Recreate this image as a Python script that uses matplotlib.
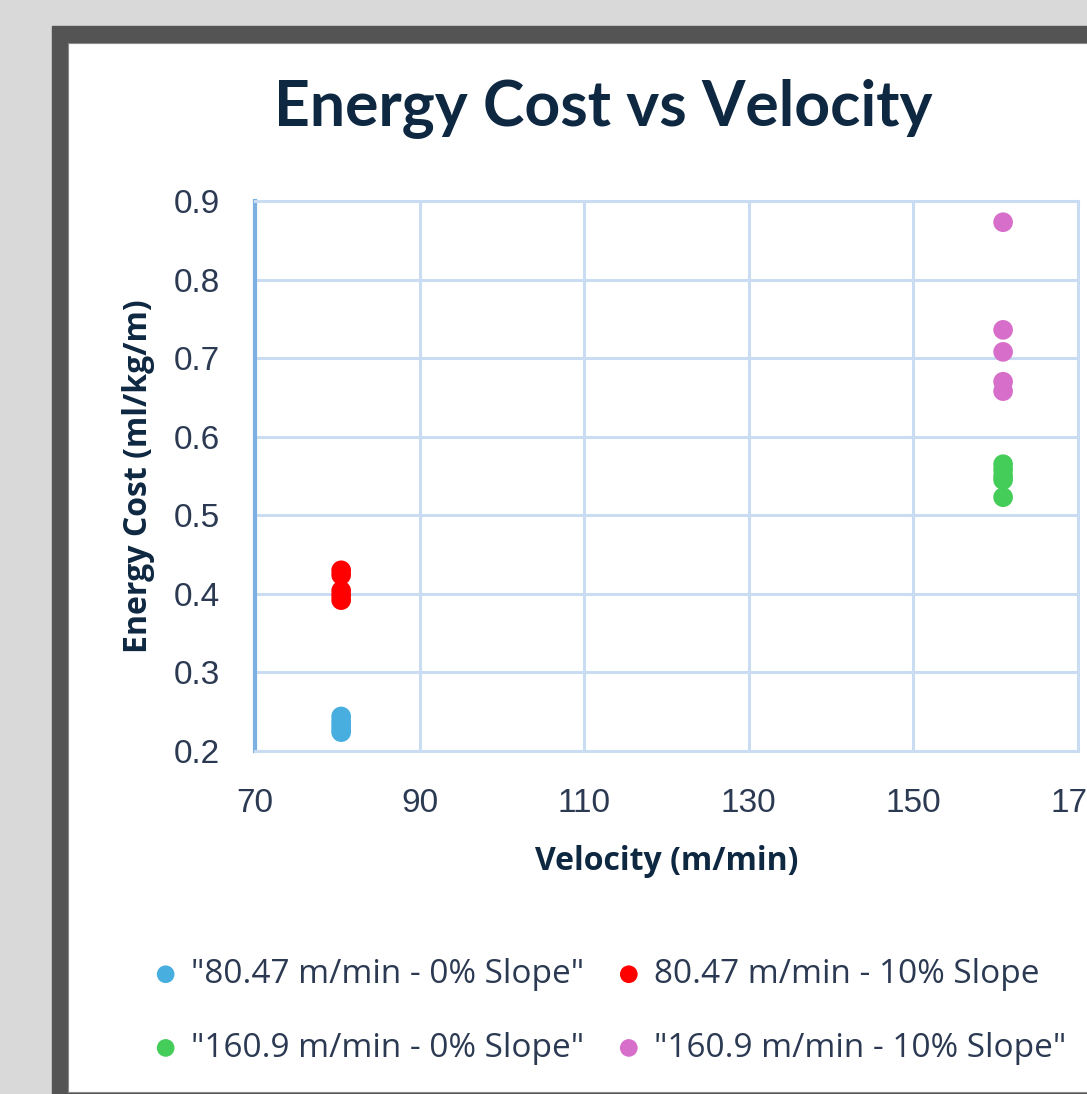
import numpy as np
import matplotlib
matplotlib.use("Agg")
import matplotlib.pyplot as plt
from matplotlib.patches import Rectangle

# data
x_slow = 80.47
x_fast = 160.9
blue_y = [0.244, 0.238, 0.233, 0.228, 0.224]    # "80.47 m/min - 0% Slope"
red_y = [0.430, 0.424, 0.404, 0.398, 0.392]     # 80.47 m/min - 10% Slope
green_y = [0.565, 0.558, 0.550, 0.545, 0.523]   # "160.9 m/min - 0% Slope"
pink_y = [0.873, 0.736, 0.708, 0.670, 0.658]    # "160.9 m/min - 10% Slope"

labels = ['"80.47 m/min - 0% Slope"', '80.47 m/min - 10% Slope',
          '"160.9 m/min - 0% Slope"', '"160.9 m/min - 10% Slope"']
colors = ['#48AEE0', '#FF0000', '#45CD59', '#D76FCA']

xticks = [70, 90, 110, 130, 150, 170]
yticks = [0.2, 0.3, 0.4, 0.5, 0.6, 0.7, 0.8, 0.9]

W, H = 1087, 1094
fig = plt.figure(figsize=(W / 100, H / 100), dpi=100, facecolor='#D9D9D9')

def fx(px):
    return px / W

def fy(py):
    return 1 - py / H

# screenshot frame: dark border + white chart area
fig.patches.append(Rectangle((fx(52), fy(1094)), 1.0, fy(26) - fy(1094),
                             transform=fig.transFigure, color='#545454', zorder=-10))
fig.patches.append(Rectangle((fx(68), fy(1092)), 1.0, fy(43) - fy(1092),
                             transform=fig.transFigure, facecolor='white',
                             edgecolor='#8A8A8A', lw=0.8, zorder=-9))

ax = fig.add_axes([fx(255), fy(751), fx(1078) - fx(255), fy(201) - fy(751)])
ax.set_zorder(2)
ax.set_facecolor('white')

series = [(x_slow, blue_y), (x_slow, red_y), (x_fast, green_y), (x_fast, pink_y)]
handles = []
for (xv, ys), c, lab in zip(series, colors, labels):
    h = ax.scatter(np.full(len(ys), xv), ys, s=200, color=c, edgecolors='none',
                   label=lab, zorder=3)
    handles.append(h)

ax.set_xlim(70, 170)
ax.set_ylim(0.2, 0.9)
ax.set_xticks(xticks)
ax.set_yticks(yticks)
ax.set_yticklabels([f'{v:.1f}' for v in yticks])
ax.grid(True, color='#C9DCF1', lw=2.2, zorder=0)
ax.set_axisbelow(True)
ax.tick_params(length=0, labelsize=24, labelcolor='#2B3A52')
for lab in ax.get_xticklabels() + ax.get_yticklabels():
    lab.set_family('Liberation Sans')
ax.tick_params(axis='x', pad=27)
ax.tick_params(axis='y', pad=25)

ax.spines['left'].set_color('#7DB0E0')
ax.spines['left'].set_linewidth(3.0)
for side in ['bottom', 'top', 'right']:
    ax.spines[side].set_color('#C9DCF1')
    ax.spines[side].set_linewidth(2.2)

txt = '#0E2841'
fig.text(fx(603), fy(108), 'Energy Cost vs Velocity', ha='center', va='center',
         fontsize=45, fontweight='bold', color=txt, family='Lato')
ax.set_xlabel('Velocity (m/min)', fontsize=23, fontweight='bold', color=txt,
              family='Open Sans', labelpad=18)
ax.set_ylabel('Energy Cost (ml/kg/m)', fontsize=23, fontweight='bold', color=txt,
              family='Open Sans', labelpad=14)

# legend fills row by row in the reference
order = [0, 2, 1, 3]
fig.legend([handles[i] for i in order], [labels[i] for i in order],
           loc='upper left', bbox_to_anchor=(fx(149), fy(958)), ncol=2,
           frameon=False, prop={'family': 'Open Sans', 'size': 24},
           labelcolor='#2B3A52', handlelength=1.0, handletextpad=0.25,
           columnspacing=0.85, labelspacing=1.22, markerscale=0.9,
           borderpad=0, borderaxespad=0)

fig.savefig('out.png', dpi=100, facecolor=fig.get_facecolor())
